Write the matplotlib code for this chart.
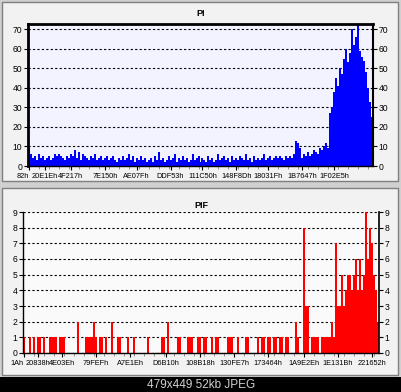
import numpy as np
import matplotlib.pyplot as plt
from matplotlib import font_manager
from matplotlib.patches import Rectangle
from matplotlib.ticker import MultipleLocator

# narrow font for the crowded hex labels if the system has one
names = {f.name for f in font_manager.fontManager.ttflist}
if 'Liberation Sans Narrow' in names:
    plt.rcParams['font.family'] = ['Liberation Sans Narrow', 'DejaVu Sans']
    xsize = 6.3
else:
    plt.rcParams['font.family'] = ['Liberation Sans', 'DejaVu Sans']
    xsize = 5.3

W, H = 402, 392

# PI histogram (one value per bin)
pi_vals = [9, 6, 4, 5, 3, 6, 4, 5, 3, 4, 5, 3, 4, 6, 5, 6, 5, 4, 3, 5,
           4, 6, 5, 8, 4, 7, 3, 6, 5, 4, 3, 5, 4, 6, 3, 4, 5, 3, 4, 5,
           3, 4, 5, 3, 2, 4, 3, 5, 3, 4, 6, 3, 5, 2, 4, 3, 5, 3, 4, 2,
           3, 4, 2, 5, 3, 7, 3, 4, 2, 3, 5, 3, 4, 6, 2, 4, 3, 5, 3, 4,
           2, 3, 6, 3, 4, 5, 2, 4, 3, 2, 5, 3, 4, 2, 3, 6, 3, 4, 5, 3,
           4, 2, 5, 3, 4, 3, 5, 4, 3, 6, 3, 4, 2, 5, 3, 4, 3, 4, 6, 3,
           4, 5, 3, 4, 5, 4, 5, 4, 3, 5, 4, 5, 4, 6, 13, 12, 9, 4, 6, 5,
           7, 5, 6, 8, 7, 6, 9, 8, 10, 12, 9, 27, 30, 38, 45, 41, 50, 47, 55, 60,
           53, 58, 70, 62, 66, 73, 59, 56, 54, 48, 40, 33, 25]
pi_ticks = [0, 8, 21, 38, 54, 71, 87, 104, 120, 137, 153]
pi_labels = ['82h', '20E1Eh', '4F217h', '7E150h', 'AE07Fh', 'DDF53h',
             '111C50h', '148F8Dh', '18031Fh', '1B7647h', '1F02E5h']

# PIF histogram
pif_vals = [1, 0, 0, 1, 0, 1, 0, 1, 1, 0, 1, 0, 0, 1, 1, 1, 1, 0, 1, 1,
            1, 0, 0, 0, 0, 0, 0, 2, 0, 0, 0, 1, 1, 1, 1, 2, 1, 0, 1, 1,
            0, 1, 0, 0, 2, 0, 0, 1, 1, 0, 0, 0, 1, 0, 0, 1, 0, 0, 0, 0,
            0, 0, 1, 0, 0, 0, 0, 0, 0, 1, 1, 0, 2, 0, 0, 0, 0, 1, 1, 0,
            0, 0, 1, 1, 1, 0, 0, 1, 1, 0, 1, 1, 0, 0, 1, 0, 1, 1, 0, 0,
            0, 0, 1, 1, 1, 0, 0, 1, 0, 0, 0, 1, 1, 0, 0, 0, 0, 1, 0, 1,
            1, 0, 1, 1, 0, 1, 1, 0, 1, 1, 0, 1, 1, 0, 0, 0, 2, 1, 0, 0,
            8, 3, 3, 0, 1, 1, 1, 1, 0, 1, 1, 1, 1, 1, 2, 1, 7, 3, 3, 5,
            3, 4, 5, 5, 4, 5, 6, 4, 6, 4, 5, 9, 6, 8, 7, 5, 4, 2]
pif_ticks = [0, 7, 19, 36, 53, 71, 88, 105, 122, 140, 157, 174]
pif_labels = ['1Ah', '20838h', '4E03Eh', '79FEFh', 'A7E1Eh', 'D6B10h',
              '108B18h', '130FE7h', '173464h', '1A9E2Eh', '1E131Bh', '221652h']


def box(x0, y0, x1, y1):
    # pixel box (from top-left) -> figure rect
    return [x0 / W, 1 - y1 / H, (x1 - x0) / W, (y1 - y0) / H]


fig = plt.figure(figsize=(W / 100, H / 100), dpi=100, facecolor='#d0d0d0')

# panel backgrounds and caption strip (behind the axes)
for y0, y1 in [(2, 181), (188, 375)]:
    r = box(2, y0, 398, y1)
    fig.patches.append(Rectangle((r[0], r[1]), r[2], r[3], transform=fig.transFigure,
                                 facecolor='#f2f2f2', edgecolor='#808080', lw=1, zorder=-5))
r = box(0, 377, 402, 392)
fig.patches.append(Rectangle((r[0], r[1]), r[2], r[3], transform=fig.transFigure,
                             facecolor='black', edgecolor='none', zorder=-5))
fig.text(201 / W, 1 - 384.5 / H, '479x449 52kb JPEG', ha='center', va='center',
         color='#d0d0d0', fontsize=8.5, family=['Liberation Sans', 'DejaVu Sans'])

fig.text(201 / W, 1 - 14 / H, 'PI', ha='center', va='center', fontsize=6.5, weight='bold')
fig.text(201 / W, 1 - 205 / H, 'PIF', ha='center', va='center', fontsize=6.5, weight='bold')


def style(ax, n, ymax, ystep, ticks, labels):
    ax.set_xlim(-0.5, n - 0.5)
    ax.set_ylim(0, ymax)
    ax.yaxis.set_major_locator(MultipleLocator(ystep))
    ax.grid(axis='y', color='black', linestyle=(0, (2, 2)), linewidth=0.8)
    ax.set_axisbelow(True)
    ax.tick_params(axis='y', left=True, right=True, labelleft=True, labelright=True,
                   length=3, width=0.8, pad=1, labelsize=6.2)
    ax.set_xticks(ticks, labels)
    ax.xaxis.set_minor_locator(MultipleLocator(5))
    ax.tick_params(axis='x', which='major', length=3, width=0.8, pad=2, labelsize=xsize)
    ax.tick_params(axis='x', which='minor', length=2, color='#808080')
    ax.get_xticklabels()[0].set_horizontalalignment('right')


ax1 = fig.add_axes(box(28, 24, 373, 166))
ax1.set_facecolor('#f3f3ff')
ax1.bar(np.arange(len(pi_vals)), pi_vals, width=1.0, color='#0000ff', linewidth=0)
style(ax1, len(pi_vals), 72.7, 10, pi_ticks, pi_labels)
ax1.spines['left'].set_linewidth(2)
ax1.spines['top'].set_linewidth(2)
ax1.spines['right'].set_linewidth(1.5)
ax1.spines['bottom'].set_linewidth(1)

ax2 = fig.add_axes(box(23, 212, 379, 353))
ax2.set_facecolor('#fafafa')
ax2.bar(np.arange(len(pif_vals)), pif_vals, width=0.8, color='#ff0000', linewidth=0)
style(ax2, len(pif_vals), 9, 1, pif_ticks, pif_labels)
ax2.spines['top'].set_visible(False)
ax2.spines['left'].set_linewidth(1)
ax2.spines['right'].set_linewidth(1.2)
ax2.spines['bottom'].set_linewidth(1)

fig.savefig('out.png', dpi=100, facecolor=fig.get_facecolor())
